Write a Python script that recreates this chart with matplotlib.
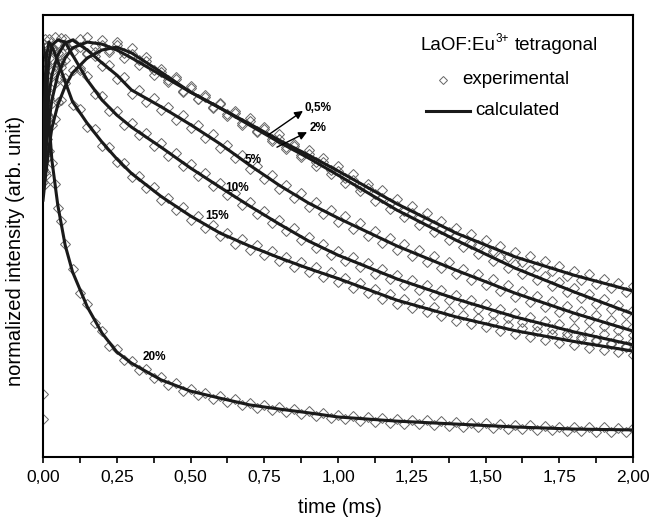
import numpy as np
import matplotlib.pyplot as plt

plt.rcParams['font.family'] = ['Liberation Sans', 'DejaVu Sans']

# time grid of the calculated curves (ms)
t_fit = [0, 0.01, 0.02, 0.03, 0.05, 0.075, 0.1, 0.15, 0.2, 0.25, 0.3, 0.4,
         0.5, 0.6, 0.7, 0.8, 0.9, 1.0, 1.2, 1.4, 1.6, 1.8, 2.0]

# calculated curves (normalized intensity)
fit_05 = [0.616, 0.683, 0.741, 0.789, 0.844, 0.889, 0.921, 0.957, 0.976, 0.983, 0.969, 0.923,
          0.875, 0.837, 0.799, 0.760, 0.724, 0.686, 0.607, 0.537, 0.480, 0.436, 0.398]
fit_2 = [0.640, 0.736, 0.803, 0.856, 0.916, 0.957, 0.981, 0.995, 0.990, 0.976, 0.957, 0.916,
         0.875, 0.837, 0.796, 0.755, 0.717, 0.676, 0.592, 0.520, 0.453, 0.396, 0.343]
fit_5 = [0.664, 0.784, 0.868, 0.916, 0.964, 0.993, 1.000, 0.976, 0.945, 0.916, 0.880, 0.840,
         0.797, 0.751, 0.700, 0.652, 0.609, 0.573, 0.506, 0.448, 0.393, 0.345, 0.302]
fit_10 = [0.688, 0.856, 0.952, 0.988, 1.000, 0.995, 0.964, 0.904, 0.856, 0.820, 0.791, 0.743,
          0.693, 0.647, 0.602, 0.559, 0.518, 0.484, 0.427, 0.379, 0.336, 0.300, 0.269]
fit_15 = [0.736, 0.952, 0.995, 0.985, 0.950, 0.900, 0.852, 0.800, 0.755, 0.715, 0.680, 0.625,
          0.578, 0.537, 0.506, 0.478, 0.452, 0.428, 0.376, 0.336, 0.303, 0.277, 0.254]
fit_20 = [0.988, 0.952, 0.808, 0.712, 0.604, 0.508, 0.444, 0.360, 0.297, 0.252, 0.225, 0.185,
          0.158, 0.141, 0.125, 0.115, 0.106, 0.096, 0.086, 0.079, 0.072, 0.067, 0.065]

# experimental sampling times (ms): dense start, then every 0.025 ms
t_exp = [0, 0.005, 0.01, 0.015, 0.02, 0.03, 0.04, 0.05, 0.06, 0.075] + \
        list(np.round(np.arange(0.1, 2.0001, 0.025), 3))

exp_05 = [0.150, 0.655, 0.676, 0.720, 0.735, 0.797, 0.810, 0.851, 0.856, 0.897,
          0.928, 0.933, 0.966, 0.961, 0.988, 0.972, 0.995, 0.970, 0.980, 0.951,
          0.960, 0.927, 0.931, 0.905, 0.912, 0.878, 0.889, 0.859, 0.864, 0.838,
          0.850, 0.822, 0.829, 0.801, 0.812, 0.781, 0.791, 0.763, 0.774, 0.744,
          0.750, 0.725, 0.737, 0.708, 0.716, 0.689, 0.698, 0.670, 0.679, 0.648,
          0.655, 0.631, 0.640, 0.610, 0.619, 0.591, 0.601, 0.574, 0.585, 0.556,
          0.566, 0.539, 0.550, 0.522, 0.534, 0.509, 0.521, 0.494, 0.505, 0.480,
          0.492, 0.467, 0.481, 0.457, 0.469, 0.446, 0.459, 0.435, 0.447, 0.424,
          0.439, 0.414, 0.428, 0.405, 0.418, 0.396, 0.409]
exp_2 = [0.090, 0.684, 0.745, 0.762, 0.812, 0.849, 0.897, 0.909, 0.944, 0.951,
         0.990, 0.983, 1.006, 0.986, 1.001, 0.975, 0.987, 0.958, 0.966, 0.940,
         0.949, 0.917, 0.924, 0.899, 0.907, 0.876, 0.884, 0.858, 0.867, 0.839,
         0.846, 0.818, 0.826, 0.797, 0.806, 0.779, 0.787, 0.757, 0.763, 0.738,
         0.747, 0.719, 0.726, 0.699, 0.707, 0.678, 0.686, 0.657, 0.664, 0.637,
         0.645, 0.615, 0.622, 0.594, 0.602, 0.575, 0.584, 0.557, 0.566, 0.539,
         0.547, 0.521, 0.529, 0.504, 0.512, 0.487, 0.496, 0.470, 0.479, 0.453,
         0.462, 0.438, 0.448, 0.424, 0.434, 0.409, 0.419, 0.395, 0.405, 0.381,
         0.392, 0.368, 0.379, 0.355, 0.365, 0.342, 0.352]
exp_5 = [0.660, 0.735, 0.792, 0.822, 0.861, 0.925, 0.937, 0.970, 0.971, 1.003,
         0.992, 1.002, 0.968, 0.972, 0.937, 0.941, 0.906, 0.911, 0.871, 0.881,
         0.851, 0.862, 0.831, 0.840, 0.809, 0.820, 0.788, 0.797, 0.764, 0.774,
         0.742, 0.749, 0.716, 0.725, 0.690, 0.699, 0.667, 0.676, 0.643, 0.652,
         0.622, 0.632, 0.600, 0.611, 0.583, 0.593, 0.564, 0.577, 0.547, 0.560,
         0.531, 0.543, 0.514, 0.526, 0.497, 0.511, 0.483, 0.496, 0.468, 0.482,
         0.454, 0.467, 0.439, 0.452, 0.425, 0.439, 0.412, 0.426, 0.398, 0.412,
         0.384, 0.398, 0.372, 0.386, 0.360, 0.374, 0.348, 0.362, 0.336, 0.351,
         0.325, 0.340, 0.315, 0.329, 0.304, 0.318, 0.293]
exp_10 = [0.690, 0.780, 0.849, 0.915, 0.958, 0.981, 1.006, 0.993, 1.004, 0.988,
          0.972, 0.927, 0.913, 0.871, 0.866, 0.829, 0.830, 0.797, 0.800, 0.771,
          0.777, 0.747, 0.752, 0.722, 0.728, 0.698, 0.703, 0.674, 0.680, 0.650,
          0.657, 0.628, 0.634, 0.605, 0.612, 0.583, 0.591, 0.562, 0.568, 0.541,
          0.549, 0.520, 0.527, 0.502, 0.510, 0.485, 0.493, 0.469, 0.479, 0.455,
          0.465, 0.440, 0.450, 0.426, 0.436, 0.413, 0.424, 0.401, 0.412, 0.389,
          0.400, 0.377, 0.388, 0.366, 0.377, 0.355, 0.367, 0.344, 0.356, 0.333,
          0.345, 0.324, 0.336, 0.315, 0.327, 0.306, 0.318, 0.297, 0.309, 0.288,
          0.301, 0.280, 0.294, 0.273, 0.286, 0.265, 0.278]
exp_15 = [0.740, 0.870, 0.944, 0.985, 1.003, 0.978, 0.972, 0.944, 0.935, 0.909,
          0.845, 0.835, 0.792, 0.786, 0.746, 0.744, 0.707, 0.706, 0.671, 0.675,
          0.644, 0.647, 0.616, 0.622, 0.593, 0.599, 0.569, 0.577, 0.549, 0.556,
          0.529, 0.538, 0.512, 0.523, 0.497, 0.508, 0.484, 0.494, 0.469, 0.480,
          0.456, 0.467, 0.444, 0.455, 0.431, 0.443, 0.419, 0.430, 0.406, 0.417,
          0.393, 0.404, 0.380, 0.391, 0.367, 0.380, 0.357, 0.370, 0.347, 0.360,
          0.337, 0.350, 0.327, 0.341, 0.319, 0.333, 0.311, 0.324, 0.302, 0.316,
          0.294, 0.309, 0.287, 0.302, 0.281, 0.296, 0.274, 0.289, 0.268, 0.283,
          0.262, 0.277, 0.257, 0.272, 0.251, 0.266, 0.245]
exp_20 = [0.990, 1.002, 0.945, 0.880, 0.815, 0.705, 0.655, 0.598, 0.565, 0.512,
          0.450, 0.394, 0.366, 0.321, 0.303, 0.267, 0.258, 0.232, 0.231, 0.209,
          0.210, 0.189, 0.191, 0.173, 0.177, 0.159, 0.163, 0.149, 0.154, 0.140,
          0.146, 0.132, 0.138, 0.124, 0.130, 0.117, 0.125, 0.112, 0.120, 0.108,
          0.115, 0.103, 0.111, 0.099, 0.106, 0.094, 0.101, 0.090, 0.099, 0.087,
          0.096, 0.085, 0.094, 0.082, 0.091, 0.080, 0.089, 0.078, 0.088, 0.077,
          0.086, 0.075, 0.084, 0.073, 0.082, 0.071, 0.081, 0.070, 0.079, 0.068,
          0.077, 0.066, 0.076, 0.065, 0.075, 0.064, 0.073, 0.063, 0.072, 0.062,
          0.072, 0.061, 0.071, 0.061, 0.070, 0.060, 0.070]

fits = [fit_05, fit_2, fit_5, fit_10, fit_15, fit_20]
exps = [exp_05, exp_2, exp_5, exp_10, exp_15, exp_20]

fig = plt.figure(figsize=(6.53, 5.22), dpi=100)
ax = fig.add_axes([0.0659, 0.1245, 0.9035, 0.8468])

for e in exps:
    ax.plot(t_exp, e, 'D', ms=5, mfc='none', mec='#666666', mew=0.7, zorder=2)
for c in fits:
    ax.plot(t_fit, c, '-', color='#1a1a1a', lw=2.2, zorder=3)

ax.set_xlim(0, 2.0)
ax.set_ylim(0, 1.06)
ticks = np.arange(0, 2.01, 0.25)
ax.set_xticks(ticks)
ax.set_xticks(np.arange(0.125, 2.0, 0.25), minor=True)
ax.set_xticklabels([('%.2f' % v).replace('.', ',') for v in ticks])
ax.set_yticks([])
ax.tick_params(axis='x', which='both', direction='out', length=4, width=1.2,
               labelsize=12.5, pad=5)
for s in ax.spines.values():
    s.set_linewidth(1.5)

ax.set_xlabel('time (ms)', fontsize=14.5)
ax.xaxis.set_label_coords(0.503, -0.093)
ax.set_ylabel('normalized intensity (arb. unit)', fontsize=14.5)
ax.yaxis.set_label_coords(-0.03, 0.466)

# legend, drawn by hand in axes coordinates
ta = ax.transAxes
t1 = ax.text(0.639, 0.932, 'LaOF:Eu', transform=ta, ha='left', va='center', fontsize=13.5)
t2 = ax.annotate('3+', xy=(1, 0), xycoords=t1, xytext=(0.5, 6.5), textcoords='offset points',
                 ha='left', va='bottom', fontsize=8.5)
ax.annotate('tetragonal', xy=(1, 0), xycoords=(t2, t1), xytext=(4, 0), textcoords='offset points',
            ha='left', va='bottom', fontsize=13.5)
ax.plot([0.678], [0.853], 'D', ms=4, mfc='none', mec='#666666', mew=0.7, transform=ta)
ax.text(0.710, 0.853, 'experimental', transform=ta, ha='left', va='center', fontsize=13.5)
ax.plot([0.649, 0.724], [0.783, 0.783], '-', color='#1a1a1a', lw=2.2, transform=ta)
ax.text(0.732, 0.783, 'calculated', transform=ta, ha='left', va='center', fontsize=13.5)

# curve labels
labels = ['0,5%', '2%', '5%', '10%', '15%', '20%']
label_t = [0.888, 0.905, 0.685, 0.617, 0.549, 0.336]
label_y = [0.837, 0.789, 0.712, 0.645, 0.578, 0.240]
for s, x, y in zip(labels, label_t, label_y):
    ax.text(x, y, s, fontsize=8.5, weight='bold', ha='left', va='center', zorder=5)
for p0, p1 in [((0.763, 0.772), (0.881, 0.830)), ((0.793, 0.743), (0.895, 0.779))]:
    ax.annotate('', xy=p1, xytext=p0,
                arrowprops=dict(arrowstyle='-|>', color='black', lw=1, mutation_scale=12,
                                shrinkA=0, shrinkB=0))

fig.savefig('out.png', dpi=100)
